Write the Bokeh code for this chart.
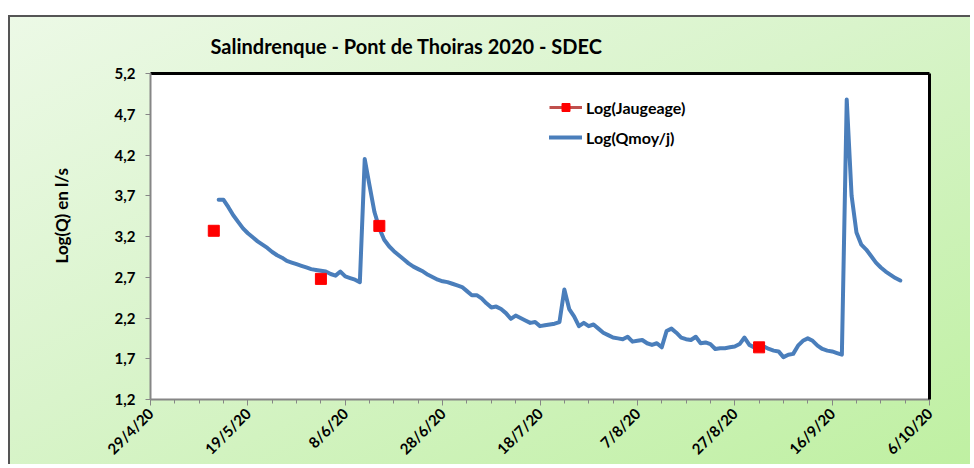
import math
import pandas as pd
from bokeh.plotting import figure
from bokeh.models import (FixedTicker, CustomJSTickFormatter, LinearAxis, Legend,
                          LegendItem, Range1d, ColumnDataSource, Title)
from bokeh.embed import file_html
from bokeh.resources import INLINE

# ---------------- data ----------------
chart_title = "Salindrenque - Pont de Thoiras 2020 - SDEC"
y_label = "Log(Q) en l/s"
x_start = "2020-04-29"
x_end = "2020-10-06"
x_tick_dates = ["2020-04-29", "2020-05-19", "2020-06-08", "2020-06-28", "2020-07-18",
                "2020-08-07", "2020-08-27", "2020-09-16", "2020-10-06"]
y_ticks = [1.2, 1.7, 2.2, 2.7, 3.2, 3.7, 4.2, 4.7, 5.2]

q_start = "2020-05-13"
q_values = [
    3.65, 3.65, 3.56, 3.46, 3.38, 3.30, 3.24, 3.19, 3.14, 3.10,   # 13/5 - 22/5
    3.06, 3.01, 2.97, 2.94, 2.90, 2.88, 2.86, 2.84, 2.82, 2.80,   # 23/5 - 1/6
    2.79, 2.78, 2.77, 2.74, 2.72, 2.77, 2.71, 2.69, 2.67, 2.64,   # 2/6 - 11/6
    4.15, 3.82, 3.50, 3.30, 3.16, 3.08, 3.02, 2.97, 2.92, 2.87,   # 12/6 - 21/6
    2.83, 2.80, 2.77, 2.73, 2.70, 2.67, 2.65, 2.64, 2.62, 2.60,   # 22/6 - 1/7
    2.58, 2.53, 2.48, 2.48, 2.44, 2.38, 2.33, 2.34, 2.31, 2.26,   # 2/7 - 11/7
    2.19, 2.23, 2.20, 2.17, 2.14, 2.15, 2.10, 2.11, 2.12, 2.13,   # 12/7 - 21/7
    2.15, 2.55, 2.31, 2.22, 2.10, 2.14, 2.10, 2.12, 2.07, 2.02,   # 22/7 - 31/7
    1.99, 1.96, 1.95, 1.94, 1.97, 1.91, 1.92, 1.93, 1.89, 1.87,   # 1/8 - 10/8
    1.89, 1.84, 2.04, 2.07, 2.02, 1.96, 1.94, 1.93, 1.97, 1.89,   # 11/8 - 20/8
    1.90, 1.88, 1.82, 1.83, 1.83, 1.84, 1.85, 1.88, 1.96, 1.87,   # 21/8 - 30/8
    1.84, 1.86, 1.85, 1.82, 1.80, 1.79, 1.72, 1.75, 1.76, 1.86,   # 31/8 - 9/9
    1.92, 1.95, 1.92, 1.86, 1.82, 1.80, 1.79, 1.77, 1.75, 4.88,   # 10/9 - 19/9
    3.70, 3.25, 3.10, 3.04, 2.96, 2.88, 2.82, 2.77, 2.73, 2.69,   # 20/9 - 29/9
    2.66,                                                         # 30/9
]

jaug_dates = ["2020-05-12", "2020-06-03", "2020-06-15", "2020-09-01"]
jaug_values = [3.27, 2.68, 3.33, 1.84]

# ---------------- build ----------------
DAY = 86400000.0


def ms(d):
    return pd.Timestamp(d).timestamp() * 1000.0


q_x = list(pd.date_range(q_start, periods=len(q_values), freq="D"))
j_x = [pd.Timestamp(d) for d in jaug_dates]

FONT = "Lato"
AXIS_GRAY = "#868686"

p = figure(width=962, height=449, x_axis_type="datetime",
           x_range=Range1d(ms(x_start), ms(x_end)),
           y_range=Range1d(y_ticks[0], y_ticks[-1]),
           output_backend="svg", toolbar_location=None,
           min_border_left=140, min_border_right=43,
           min_border_top=55, min_border_bottom=65)

p.margin = (15, 0, 0, 8)
p.border_fill_color = None
p.background_fill_color = "white"
p.outline_line_color = None
p.styles = {
    "background": "linear-gradient(to bottom right, #ecf9e6 0%, #d9f4cb 45%, #bff0a2 100%)",
    "border-left": "2px solid #555555",
    "border-top": "2px solid #555555",
}
p.xgrid.grid_line_color = None
p.ygrid.grid_line_color = None

# title
p.title.text = chart_title
p.title.text_font = FONT
p.title.text_font_size = "20px"
p.title.text_font_style = "bold"
p.title.text_color = "black"
p.title.align = "left"
p.title.offset = 60
p.title.vertical_align = "middle"
p.title.standoff = 30

# x axis
xa = p.xaxis[0]
start = ms(x_start)
n_minor = int(round((ms(x_end) - start) / (5 * DAY))) + 1
xa.ticker = FixedTicker(ticks=[ms(d) for d in x_tick_dates],
                        minor_ticks=[start + i * 5 * DAY for i in range(n_minor)])
xa.formatter = CustomJSTickFormatter(code="""
const d = new Date(tick);
return d.getUTCDate() + '/' + (d.getUTCMonth() + 1) + '/' + String(d.getUTCFullYear()).slice(2);
""")
xa.major_label_orientation = math.pi / 4
xa.axis_line_color = AXIS_GRAY
xa.axis_line_width = 2
xa.major_tick_line_color = AXIS_GRAY
xa.minor_tick_line_color = AXIS_GRAY
xa.major_tick_in = 0
xa.major_tick_out = 6
xa.minor_tick_in = 0
xa.minor_tick_out = 4
xa.major_label_text_font = FONT
xa.major_label_text_font_style = "bold"
xa.major_label_text_font_size = "15px"
xa.major_label_text_color = "black"
xa.major_label_standoff = 5

# y axis
ya = p.yaxis[0]
ya.ticker = FixedTicker(ticks=y_ticks, minor_ticks=[])
ya.formatter = CustomJSTickFormatter(code="return tick.toFixed(1).replace('.', ',');")
ya.axis_line_color = AXIS_GRAY
ya.axis_line_width = 2
ya.major_tick_line_color = AXIS_GRAY
ya.major_tick_in = 0
ya.major_tick_out = 5
ya.minor_tick_line_color = None
ya.major_label_text_font = FONT
ya.major_label_text_font_style = "bold"
ya.major_label_text_font_size = "15px"
ya.major_label_text_color = "black"
ya.major_label_standoff = 10

# y axis title, as a side title so it can sit a little above the frame centre
p.add_layout(Title(text=y_label, align="left", offset=136, vertical_align="middle",
                   standoff=78, text_font=FONT, text_font_style="bold",
                   text_font_size="17px", text_color="black"), "left")

# black top / right border of plot area
for side in ("right", "above"):
    ax = LinearAxis(ticker=FixedTicker(ticks=[]), axis_line_color="black",
                    axis_line_width=3, major_tick_line_color=None,
                    minor_tick_line_color=None)
    p.add_layout(ax, side)

# series
j_src = ColumnDataSource(dict(x=j_x, y=jaug_values))
q_src = ColumnDataSource(dict(x=q_x, y=q_values))

q_line = p.line("x", "y", source=q_src, line_color="#4a7ebb", line_width=4,
                line_join="round", line_cap="round")
j_leg_line = p.line(x=[j_x[0], j_x[0]], y=[float("nan"), float("nan")],
                    line_color="#c0504d", line_width=3)
j_pts = p.scatter("x", "y", source=j_src, marker="square", size=11,
                  fill_color="#ff0000", line_color="#ff0000")

legend = Legend(items=[LegendItem(label="Log(Jaugeage)", renderers=[j_leg_line, j_pts]),
                       LegendItem(label="Log(Qmoy/j)", renderers=[q_line])],
                location=(399, 252), orientation="vertical",
                border_line_color=None, background_fill_alpha=0,
                padding=0, margin=0, spacing=10,
                glyph_width=33, glyph_height=20, label_standoff=4,
                label_text_font=FONT, label_text_font_style="bold",
                label_text_font_size="16px", label_text_color="black")
p.add_layout(legend)

open("out.html", "w").write(file_html(p, INLINE))
